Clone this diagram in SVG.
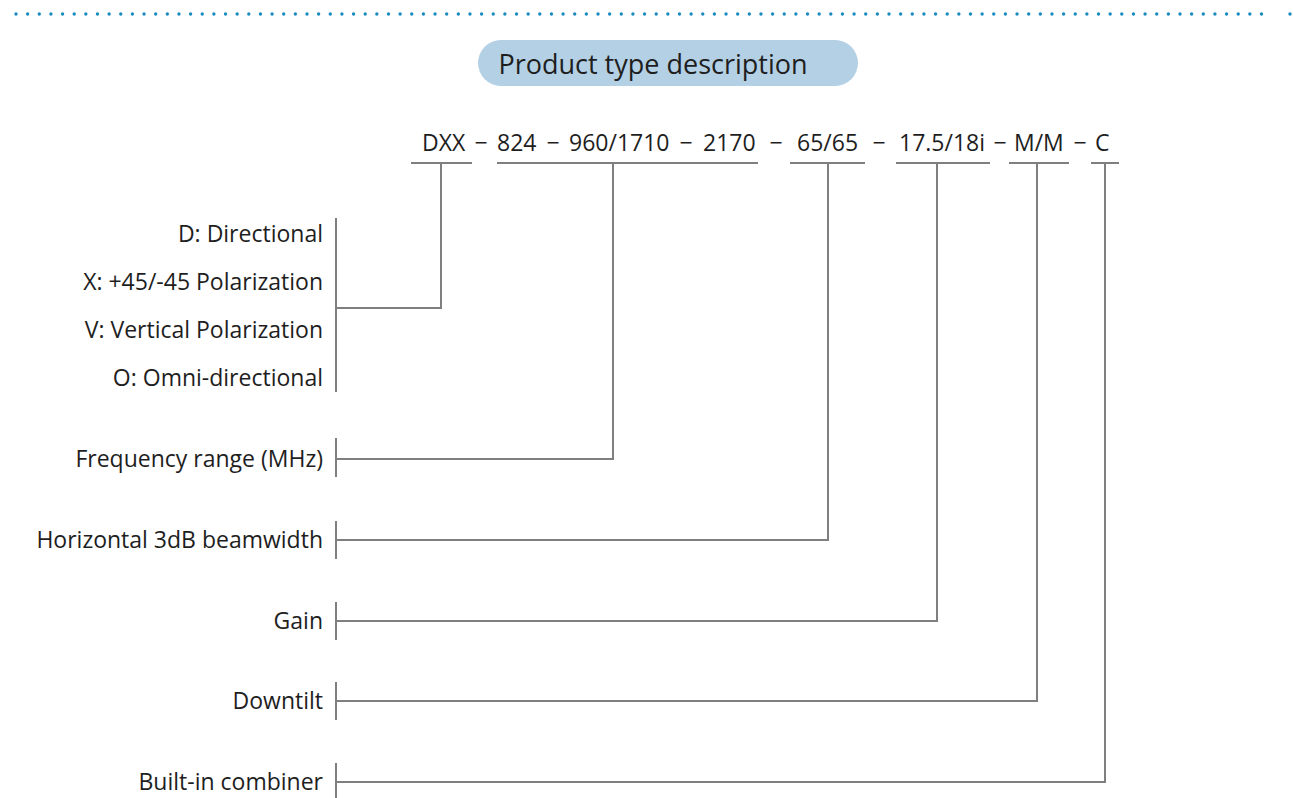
<svg xmlns="http://www.w3.org/2000/svg" width="1293" height="798" viewBox="0 0 1293 798">
<style>
text{font-family:"Open Sans","Noto Sans","DejaVu Sans",sans-serif;fill:#1e1e1e}
.lab{font-size:23px;text-anchor:end}
.code text{font-size:23px}
.d{text-anchor:middle}
.ln{stroke:#7f7f7f;stroke-width:2;fill:none}
</style>
<rect width="1293" height="798" fill="#ffffff"/>
<g id="border">
<line x1="16" y1="14" x2="1273" y2="14" stroke="#1a8bbf" stroke-width="3.4" stroke-linecap="round" stroke-dasharray="0 11.64"/>
<circle cx="1290" cy="14" r="1.7" fill="#1a8bbf"/>
</g>
<g id="title">
<rect x="478" y="40" width="380" height="46" rx="23" fill="#b4d0e4"/>
<text x="653" y="74" font-size="27" text-anchor="middle">Product type description</text>
</g>
<g id="code" class="code">
<text x="422" y="151">DXX</text>
<text class="d" x="481" y="151">−</text>
<text x="497" y="151">824</text>
<text class="d" x="553" y="151">−</text>
<text x="569" y="151">960/1710</text>
<text class="d" x="686" y="151">−</text>
<text x="703" y="151">2170</text>
<text class="d" x="776" y="151">−</text>
<text x="797" y="151">65/65</text>
<text class="d" x="879" y="151">−</text>
<text x="899" y="151">17.5/18i</text>
<text class="d" x="1000" y="151">−</text>
<text x="1014" y="151">M/M</text>
<text class="d" x="1080" y="151">−</text>
<text x="1095" y="151">C</text>
</g>
<g id="connectors" class="ln">
<path d="M411 163H472M441 163V308H336"/>
<path d="M497 163H758M613 163V459H336"/>
<path d="M790 163H865M828 163V540H336"/>
<path d="M896 163H990M937 163V621H336"/>
<path d="M1009 163H1069M1037 163V701H336"/>
<path d="M1091 163H1119M1105 163V782H336"/>
</g>
<g id="type">
<path class="ln" d="M336 218V392"/>
<text class="lab" x="323" y="242">D: Directional</text>
<text class="lab" x="323" y="290">X: +45/-45 Polarization</text>
<text class="lab" x="323" y="338">V: Vertical Polarization</text>
<text class="lab" x="323" y="386">O: Omni-directional</text>
</g>
<g id="frequency">
<path class="ln" d="M336 438V477"/>
<text class="lab" x="323" y="467">Frequency range (MHz)</text>
</g>
<g id="beamwidth">
<path class="ln" d="M336 521V559"/>
<text class="lab" x="323" y="548">Horizontal 3dB beamwidth</text>
</g>
<g id="gain">
<path class="ln" d="M336 602V640"/>
<text class="lab" x="323" y="629">Gain</text>
</g>
<g id="downtilt">
<path class="ln" d="M336 682V720"/>
<text class="lab" x="323" y="709">Downtilt</text>
</g>
<g id="combiner">
<path class="ln" d="M336 763V801"/>
<text class="lab" x="323" y="790">Built-in combiner</text>
</g>
</svg>
